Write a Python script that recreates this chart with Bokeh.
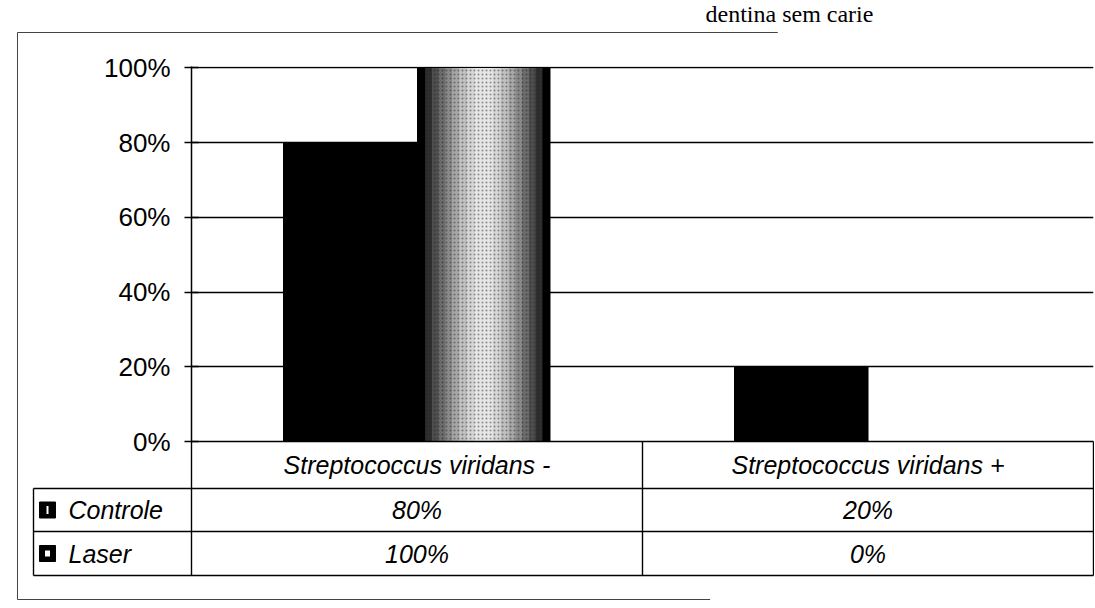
from bokeh.plotting import figure
from bokeh.models import Range1d, FactorRange, FixedTicker, NumeralTickFormatter, ColumnDataSource
from bokeh.transform import dodge
from bokeh.core.properties import value
from bokeh.embed import file_html
from bokeh.resources import INLINE

# ---- data ----
categories = ["Streptococcus viridans -", "Streptococcus viridans +"]
series_names = ["Controle", "Laser"]
controle = [0.80, 0.20]
laser = [1.00, 0.00]
y_ticks = [0, 0.2, 0.4, 0.6, 0.8, 1.0]
title_fragment = "dentina sem carie"

# ---- layout constants (pixels) ----
W, H = 1094, 604
BL, BR, BT, BB = 191, 1, 66, 163
Y_END = 1.004
FRAME_W = W - BL - BR
FRAME_H = H - BT - BB
PXU_X = FRAME_W / len(categories)
PXU_Y = FRAME_H / Y_END


def dx(px):  # pixels from frame left -> synthetic x
    return px / PXU_X


def dy(px):  # pixels below baseline -> data y
    return -px / PXU_Y


p = figure(width=W, height=H,
           x_range=FactorRange(factors=categories, range_padding=0),
           y_range=Range1d(0, Y_END),
           output_backend="svg", toolbar_location=None, x_axis_location=None,
           min_border_left=BL, min_border_right=BR, min_border_top=BT, min_border_bottom=BB)
p.outline_line_color = None
p.background_fill_color = "white"
p.border_fill_color = "white"

p.xgrid.visible = False
p.ygrid.grid_line_color = "black"
p.ygrid.grid_line_width = 1.5
p.yaxis.ticker = FixedTicker(ticks=y_ticks)
p.yaxis.formatter = NumeralTickFormatter(format="0%")
p.yaxis.major_label_text_font = "Liberation Sans"
p.yaxis.major_label_text_font_size = "26px"
p.yaxis.major_label_text_color = "black"
p.yaxis.major_label_standoff = 14
p.yaxis.axis_line_color = "black"
p.yaxis.axis_line_width = 1.5
p.yaxis.major_tick_line_color = "black"
p.yaxis.major_tick_line_width = 1.5
p.yaxis.major_tick_in = 7
p.yaxis.major_tick_out = 7
p.yaxis.minor_tick_line_color = None

src = ColumnDataSource(dict(cat=categories, controle=controle, laser=laser,
                            controle_lbl=[f"{v:.0%}" for v in controle],
                            laser_lbl=[f"{v:.0%}" for v in laser]))

BW = 0.296
p.vbar(x=dodge("cat", -BW / 2, range=p.x_range), top="controle", width=BW, source=src,
       fill_color="black", line_color="black")

layers = [(BW, "black", None), (0.26, "#2e2e2e", "dot"), (0.23, "#4e4e4e", "dot"),
          (0.20, "#6c6c6c", "dot"), (0.17, "#8a8a8a", "dot"), (0.14, "#a6a6a6", "dot"),
          (0.11, "#c0c0c0", "dot"), (0.075, "#d6d6d6", "dot"), (0.04, "#e6e6e6", "dot")]
for w, c, h in layers:
    kw = {}
    if h:
        kw = dict(hatch_pattern=h, hatch_color="#1a1a1a", hatch_scale=4, hatch_weight=1, hatch_alpha=0.45)
    p.vbar(x=dodge("cat", BW / 2, range=p.x_range), top="laser", width=w, source=src,
           fill_color=c, line_color=None, **kw)

# ---- data table below the chart ----
rows = [0, 47, 90, 134]
leg_left = dx(-158)
outer_left = dx(-174)
outer_top = Y_END + 34 / PXU_Y
outer_bottom = dy(158)
ry = [dy(r) for r in rows]

lx0 = [0, leg_left, leg_left, leg_left]
lx1 = [2, 2, 2, 2]
p.segment(x0=lx0, y0=ry, x1=lx1, y1=ry, line_color="black", line_width=1.4, level="overlay")
vx = [leg_left, 0, 1, 2]
vy0 = [ry[1], ry[0], ry[0], ry[0]]
p.segment(x0=vx, y0=vy0, x1=vx, y1=[ry[3]] * 4, line_color="black", line_width=1.4, level="overlay")

# outer frame
p.segment(x0=[outer_left, outer_left, outer_left], y0=[outer_top, outer_top, outer_bottom],
          x1=[outer_left, 1.3, 1.15], y1=[outer_bottom, outer_top, outer_bottom],
          line_color="#444444", line_width=1, level="overlay")

FONT = value("Liberation Sans")
p.text(x="cat", y=(ry[0] + ry[1]) / 2, text="cat", source=src, text_font=FONT,
       text_font_style="italic", text_font_size="25px", text_align="center",
       text_baseline="middle", text_color="black", level="overlay")
p.text(x="cat", y=(ry[1] + ry[2]) / 2, text="controle_lbl", source=src, text_font=FONT,
       text_font_style="italic", text_font_size="25px", text_align="center",
       text_baseline="middle", text_color="black", level="overlay")
p.text(x="cat", y=(ry[2] + ry[3]) / 2, text="laser_lbl", source=src, text_font=FONT,
       text_font_style="italic", text_font_size="25px", text_align="center",
       text_baseline="middle", text_color="black", level="overlay")

row_y = [(ry[1] + ry[2]) / 2, (ry[2] + ry[3]) / 2]
p.rect(x=[dx(-144)] * 2, y=row_y, width=16, height=16, width_units="screen", height_units="screen",
       fill_color="black", line_color="black", level="overlay")
p.rect(x=[dx(-144)] * 2, y=row_y, width=[2, 5], height=[8, 6], width_units="screen", height_units="screen",
       fill_color="white", line_color=None, level="overlay")
p.text(x=[dx(-123)] * 2, y=row_y, text=series_names, text_font=FONT, text_font_style="italic",
       text_font_size="25px", text_align="left", text_baseline="middle", text_color="black",
       level="overlay")

# title fragment at the top
p.text(x=[dx(514)], y=[Y_END + 66 / PXU_Y], text=[title_fragment], text_font=value("Liberation Serif"),
       text_font_size="24px", text_align="left", text_baseline="top", text_color="black",
       level="overlay")

open("out.html", "w").write(file_html(p, INLINE))
